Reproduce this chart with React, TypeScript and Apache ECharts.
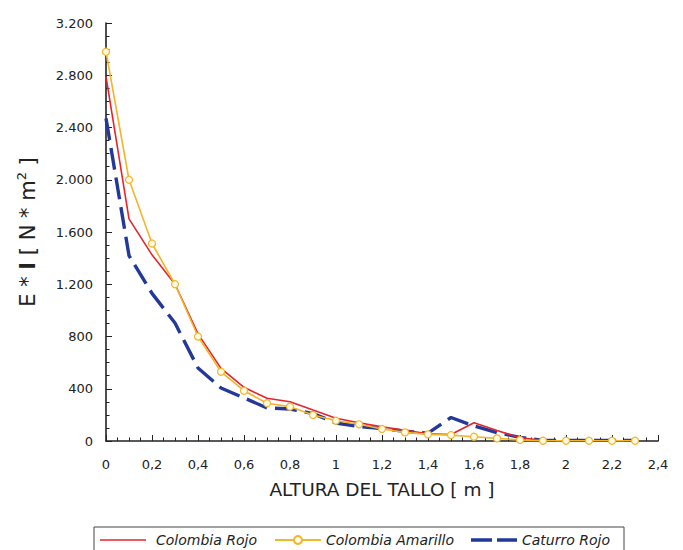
import React, { useEffect, useRef } from "react";
import * as echarts from "echarts";

const heights = [0, 0.1, 0.2, 0.3, 0.4, 0.5, 0.6, 0.7, 0.8, 0.9, 1.0, 1.1, 1.2, 1.3, 1.4, 1.5, 1.6, 1.7, 1.8, 1.9, 2.0, 2.1, 2.2, 2.3];
const colombiaRojo = [2790, 1700, 1425, 1200, 820, 556, 411, 327, 301, 237, 174, 140, 108, 82, 56, 50, 140, 80, 25, 5];
const colombiaAmarillo = [2980, 2000, 1512, 1200, 800, 530, 385, 289, 263, 199, 155, 128, 92, 66, 51, 45, 33, 20, 8, 2, 2, 2, 2, 2];
const caturroRojo = [2470, 1420, 1130, 903, 559, 406, 330, 253, 245, 210, 138, 112, 95, 75, 60, 180, 115, 64, 28, 5, 5, 5, 5, 5];
const seriesNames = ["Colombia Rojo", "Colombia Amarillo", "Caturro Rojo"];

const toPairs = (vals: number[]) => vals.map((v, i) => [heights[i], v]);

export default function App() {
  const ref = useRef<HTMLDivElement>(null);
  useEffect(() => {
    if (!ref.current) return;
    const chart = echarts.init(ref.current, undefined, { renderer: "svg" });
    const font = "DejaVu Sans, Liberation Sans, Arial, sans-serif";
    const red = "#e4252b";
    const yellow = "#f3b529";
    const blue = "#22389a";
    chart.setOption({
      animation: false,
      textStyle: { fontFamily: font },
      grid: { left: 106, right: 25, top: 23, bottom: 109 },
      xAxis: {
        type: "value",
        min: 0,
        max: 2.4,
        interval: 0.2,
        name: "ALTURA DEL TALLO [ m ]",
        nameLocation: "middle",
        nameGap: 39,
        nameTextStyle: { fontSize: 18.5, color: "#222", fontFamily: font },
        axisLine: { show: true, lineStyle: { color: "#222", width: 1.6 } },
        axisTick: { show: true, inside: true, length: 6, lineStyle: { color: "#222" } },
        minorTick: { show: true, splitNumber: 4, length: 3.5, lineStyle: { color: "#222" } },
        splitLine: { show: false },
        axisLabel: {
          color: "#222",
          fontSize: 13,
          margin: 17,
          fontFamily: font,
          formatter: (v: number) => String(Number(v.toFixed(1))).replace(".", ","),
        },
      },
      yAxis: {
        type: "value",
        min: 0,
        max: 3200,
        interval: 400,
        name: "E * {b|I} [ N * m{sup|2} ]",
        nameLocation: "middle",
        nameGap: 66,
        nameTextStyle: {
          fontSize: 21,
          color: "#222",
          fontFamily: font,
          rich: {
            b: { fontSize: 21, fontWeight: "bold", color: "#222", fontFamily: font },
            sup: { fontSize: 13, verticalAlign: "bottom", padding: [0, 0, 12, 0], color: "#222", fontFamily: font },
          },
        },
        axisLine: { show: true, lineStyle: { color: "#222", width: 1.6 } },
        axisTick: { show: true, inside: true, length: 6, lineStyle: { color: "#222" } },
        minorTick: { show: true, splitNumber: 4, length: 3.5, lineStyle: { color: "#222" } },
        splitLine: { show: false },
        axisLabel: {
          color: "#222",
          fontSize: 13,
          margin: 13,
          fontFamily: font,
          formatter: (v: number) => String(v).replace(/\B(?=(\d{3})+(?!\d))/g, "."),
        },
      },
      legend: {
        left: 94,
        top: 527,
        itemWidth: 46,
        itemHeight: 10,
        itemGap: 17,
        padding: [6, 14, 6, 6],
        borderColor: "#444",
        borderWidth: 1,
        textStyle: { fontSize: 14, fontStyle: "italic", color: "#222", fontFamily: font },
        data: [
          {
            name: seriesNames[0],
            icon: "path://M0,0L0,0M0,10L0,10M0,4.2H46V5.8H0Z",
            textStyle: { padding: [0, 0, 0, 5] },
          },
          { name: seriesNames[1] },
          {
            name: seriesNames[2],
            icon: "path://M0,0L0,0M0,10L0,10M0,3.3H21V6.7H0ZM26,3.3H46V6.7H26Z",
          },
        ],
      },
      series: [
        {
          name: seriesNames[0],
          type: "line",
          data: toPairs(colombiaRojo),
          showSymbol: false,
          symbol: "none",
          lineStyle: { color: red, width: 1.6 },
          itemStyle: { color: red },
          z: 3,
        },
        {
          name: seriesNames[1],
          type: "line",
          data: toPairs(colombiaAmarillo),
          symbol: "circle",
          symbolSize: 7,
          lineStyle: { color: yellow, width: 1.6 },
          itemStyle: { color: "#fffbe8", borderColor: yellow, borderWidth: 1.2 },
          z: 4,
        },
        {
          name: seriesNames[2],
          type: "line",
          data: toPairs(caturroRojo),
          showSymbol: false,
          symbol: "none",
          lineStyle: { color: blue, width: 3.4, type: [22, 8] },
          itemStyle: { color: blue },
          z: 2,
        },
      ],
    });
    return () => chart.dispose();
  }, []);
  return <div ref={ref} style={{ position: "fixed", left: 0, top: 0, width: 683, height: 550, background: "#fff" }} />;
}
